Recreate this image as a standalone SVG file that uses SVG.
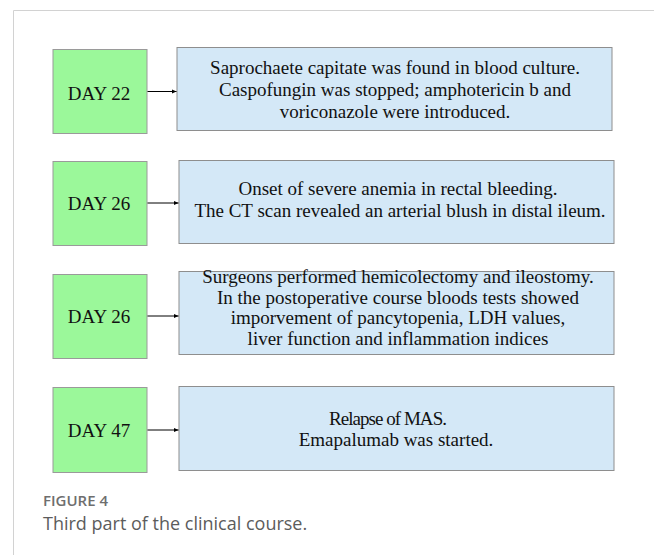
<svg xmlns="http://www.w3.org/2000/svg" width="654" height="555" viewBox="0 0 654 555">
<style>
.day{fill:#9bf89a;stroke:#9a9a9a;stroke-width:1}
.ev{fill:#d4e8f7;stroke:#8e8e8e;stroke-width:1}
.t{font-family:"Liberation Serif","Times New Roman",serif;font-size:19px;fill:#111;text-anchor:middle}
.con line{stroke:#000;stroke-width:1}
.cap1{font-family:"Open Sans","Liberation Sans",sans-serif;font-weight:600;font-size:15px;fill:#6e6e6e}
.cap2{font-family:"Open Sans","Liberation Sans",sans-serif;font-size:18px;fill:#5c5c5c}
</style>
<defs>
<marker id="ah" markerWidth="6" markerHeight="6" refX="5" refY="3" orient="auto" markerUnits="userSpaceOnUse">
<path d="M0,0.8 L5,3 L0,5.2 Z" fill="#000"/>
</marker>
</defs>
<rect width="654" height="555" fill="#fff"/>
<path d="M654,10.5 H13.5 V555" fill="none" stroke="#d2d2d2" stroke-width="1"/>

<g id="day22">
<rect class="day" x="53" y="49.5" width="94" height="84"/>
<text class="t" x="99" y="100">DAY 22</text>
</g>
<g id="event1">
<rect class="ev" x="177" y="47.5" width="435" height="83"/>
<text class="t" x="395" y="73.5">Saprochaete capitate was found in blood culture.</text>
<text class="t" x="395" y="95.5">Caspofungin was stopped; amphotericin b and</text>
<text class="t" x="395" y="117.5">voriconazole were introduced.</text>
</g>

<g id="day26a">
<rect class="day" x="53" y="161.5" width="94" height="84"/>
<text class="t" x="99" y="210">DAY 26</text>
</g>
<g id="event2">
<rect class="ev" x="179" y="160.5" width="435" height="83"/>
<text class="t" x="398" y="195">Onset of severe anemia in rectal bleeding.</text>
<text class="t" x="400" y="217">The CT scan revealed an arterial blush in distal ileum.</text>
</g>

<g id="day26b">
<rect class="day" x="53" y="274.5" width="94" height="84"/>
<text class="t" x="99" y="323">DAY 26</text>
</g>
<g id="event3">
<rect class="ev" x="179" y="271.5" width="435" height="83"/>
<text class="t" x="398" y="283">Surgeons performed hemicolectomy and ileostomy.</text>
<text class="t" x="398" y="303.5">In the postoperative course bloods tests showed</text>
<text class="t" x="398" y="324">imporvement of pancytopenia, LDH values,</text>
<text class="t" x="398" y="344.5">liver function and inflammation indices</text>
</g>

<g id="day47">
<rect class="day" x="53" y="387.5" width="94" height="85"/>
<text class="t" x="99" y="437">DAY 47</text>
</g>
<g id="event4">
<rect class="ev" x="179" y="386.5" width="435" height="84"/>
<text class="t" x="388" y="425" textLength="118" lengthAdjust="spacing">Relapse of MAS.</text>
<text class="t" x="396" y="446">Emapalumab was started.</text>
</g>

<g id="connectors" class="con">
<line x1="147.5" y1="91.5" x2="176.5" y2="91.5" marker-end="url(#ah)"/>
<line x1="147.5" y1="203" x2="178.5" y2="203" marker-end="url(#ah)"/>
<line x1="147.5" y1="316" x2="178.5" y2="316" marker-end="url(#ah)"/>
<line x1="147.5" y1="430" x2="178.5" y2="430" marker-end="url(#ah)"/>
</g>

<text class="cap1" x="43" y="506">FIGURE 4</text>
<text class="cap2" x="43" y="529.5">Third part of the clinical course.</text>
</svg>
